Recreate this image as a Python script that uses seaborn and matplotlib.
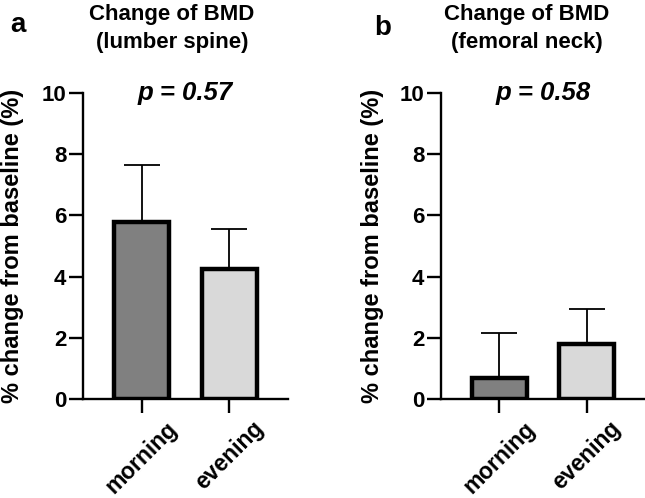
import matplotlib
matplotlib.use("Agg")
import matplotlib.pyplot as plt
import seaborn as sns
import pandas as pd

groups = ["morning", "evening"]
spine_mean = [5.8, 4.25]
spine_sd = [1.85, 1.3]
neck_mean = [0.7, 1.8]
neck_sd = [1.45, 1.15]
colors = ["#808080", "#d9d9d9"]
titles = ["Change of BMD\n(lumber spine)", "Change of BMD\n(femoral neck)"]
pvals = ["p = 0.57", "p = 0.58"]
letters = ["a", "b"]
yticks = [0, 2, 4, 6, 8, 10]

sns.set_theme(style="ticks")
plt.rcParams["font.family"] = ["Liberation Sans", "DejaVu Sans"]
plt.rcParams["font.weight"] = "bold"
plt.rcParams["text.color"] = "black"
plt.rcParams["axes.labelcolor"] = "black"
plt.rcParams["xtick.color"] = "black"
plt.rcParams["ytick.color"] = "black"
plt.rcParams["xtick.labelcolor"] = "black"
plt.rcParams["ytick.labelcolor"] = "black"

fig = plt.figure(figsize=(6.45, 4.98), dpi=100)
W, H = 645, 498
axes_px = [(83, 93, 205, 306), (441, 93, 204, 306)]
title_x = [172, 527]
letter_xy = [(18, 25), (383, 28)]
ylabel_x = [13, 373]

for i, (mean, sd) in enumerate([(spine_mean, spine_sd), (neck_mean, neck_sd)]):
    x0, y0, w, h = axes_px[i]
    ax = fig.add_axes([x0 / W, 1 - (y0 + h) / H, w / W, h / H])
    df = pd.DataFrame({"group": groups, "value": mean})
    sns.barplot(data=df, x="group", y="value", hue="group", palette=colors,
                order=groups, width=0.63, edgecolor="black", linewidth=3.2,
                legend=False, ax=ax, errorbar=None, zorder=3)
    ax.errorbar(range(len(groups)), mean, yerr=[[0] * len(sd), sd], fmt="none",
                ecolor="black", elinewidth=1.3, capsize=13, capthick=1.3, zorder=2)
    ax.set_xlim(-0.67, 1.67)
    ax.set_ylim(0, 10)
    ax.set_yticks(yticks)
    ax.set_xlabel("")
    ax.set_ylabel("")
    sns.despine(ax=ax)
    for s in ["left", "bottom"]:
        ax.spines[s].set_linewidth(1.7)
        ax.spines[s].set_color("black")
    ax.tick_params(axis="both", width=1.7, length=10, color="black",
                   labelcolor="black", labelsize=16)
    ax.tick_params(axis="y", pad=2)
    ax.tick_params(axis="x", pad=3)
    for lab in ax.get_xticklabels():
        lab.set_rotation(45)
        lab.set_ha("center")
        lab.set_fontsize(16.5)
        lab.set_fontweight("bold")
    for lab in ax.get_yticklabels():
        lab.set_fontweight("bold")
    fig.text(ylabel_x[i] / W, 1 - (y0 + h / 2) / H, "% change from baseline (%)",
             rotation=90, ha="center", va="center", fontsize=17, fontweight="bold",
             color="black")
    ax.text(0.5, 1.0, pvals[i], transform=ax.transAxes, ha="center", va="center",
            fontsize=18.5, fontweight="bold", fontstyle="italic", color="black")
    fig.text(title_x[i] / W, 1 - 4 / H, titles[i], ha="center", va="top",
             fontsize=16, fontweight="bold", linespacing=1.42, color="black")
    fig.text(letter_xy[i][0] / W, 1 - letter_xy[i][1] / H, letters[i], ha="center",
             va="center", fontsize=20, fontweight="bold", color="black")

fig.savefig("out.png", dpi=100)
